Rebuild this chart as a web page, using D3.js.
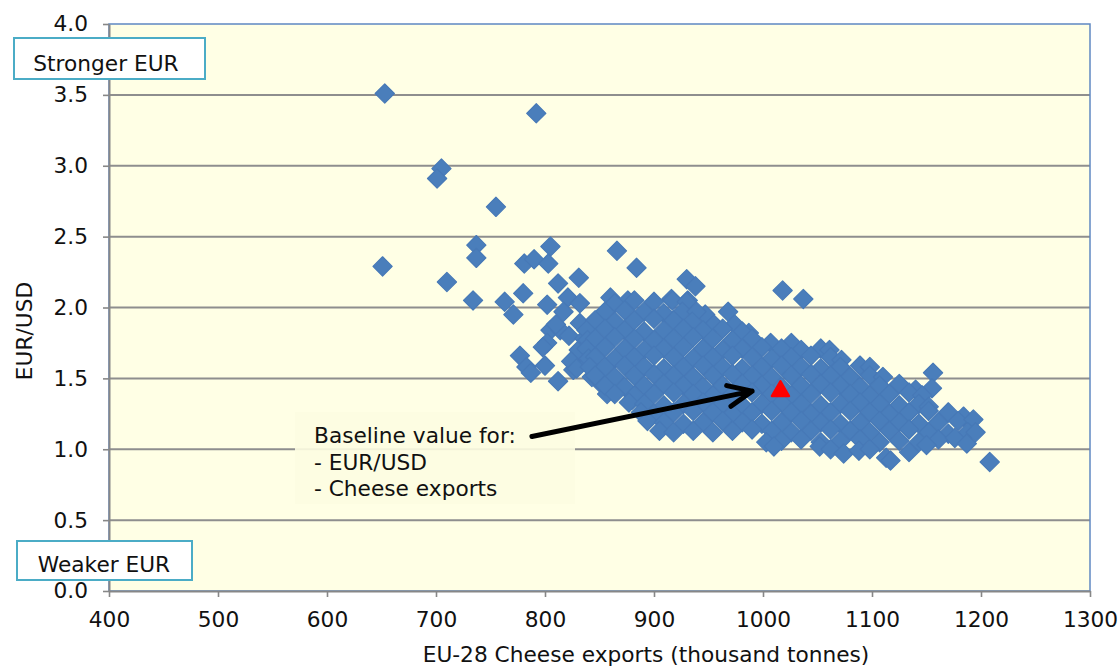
<!DOCTYPE html>
<html>
<head>
<meta charset="utf-8">
<script src="https://cdn.jsdelivr.net/npm/d3@7/dist/d3.min.js"></script>
<style>
  body { margin: 0; background: #ffffff; }
  svg { display: block; }
  text { font-family: "DejaVu Sans", Verdana, sans-serif; fill: #111; }
</style>
</head>
<body>
<svg id="chart" width="1120" height="671"></svg>
<script>
// Axis ticks
const xTicks = [400, 500, 600, 700, 800, 900, 1000, 1100, 1200, 1300];
const yTicks = [0, 0.5, 1, 1.5, 2, 2.5, 3, 3.5, 4];
const yGrid = [0.5, 1, 1.5, 2, 2.5, 3, 3.5];

// Axis titles and annotations
const xTitle = "EU-28 Cheese exports (thousand tonnes)";
const yTitle = "EUR/USD";
const strongLabel = "Stronger EUR";
const weakLabel = "Weaker EUR";
const noteLines = ["Baseline value for:", "- EUR/USD", "- Cheese exports"];

// Stochastic scenarios: [cheese exports (kt), EUR/USD]
const scenarioOutliers = [
  [653,3.51],[792,3.37],[705,2.98],[701,2.91],[755,2.71],[651,2.29],[737,2.44],[737,2.35],[710,2.18],[734,2.05],
  [805,2.43],[781,2.31],[790,2.34],[803,2.31],[866,2.40],[884,2.28],[812,2.17],[831,2.21],[780,2.10],[763,2.04],
  [771,1.95],[802,2.02],[821,2.07],[832,2.03],[817,1.97],[860,2.07],[876,2.05],[832,1.89],[850,1.92],[805,1.84],
  [814,1.84],[810,1.88],[802,1.75],[798,1.72],[777,1.66],[783,1.58],[787,1.54],[800,1.59],[812,1.48],[826,1.56],
  [831,1.70],[838,1.61],[824,1.62],[829,1.57],[822,1.80],[836,1.78],[843,1.51],[853,1.45],[857,1.39],[847,1.51],
  [880,1.35],[930,2.20],[938,2.15],[1018,2.12],[1037,2.06],[916,2.06],[931,2.05],[947,1.95],[968,1.97],
  [955,1.88],[974,1.88],[987,1.82],[1156,1.54],[1155,1.43],[1208,0.91]
];

const scenarioCore = [
  [864,2.03],[882,2.05],[900,2.04],[917,2.05],[930,2.04],
  [855,1.97],[873,1.98],[891,1.97],[909,1.96],[926,1.97],[939,1.97],
  [846,1.91],[864,1.90],[882,1.91],[900,1.92],[918,1.91],[935,1.90],
  [838,1.84],[855,1.85],[873,1.84],[891,1.83],[909,1.84],[927,1.85],[945,1.84],[963,1.85],[981,1.83],
  [839,1.77],[846,1.78],[864,1.79],[882,1.78],[900,1.77],[918,1.78],[936,1.79],[954,1.78],[972,1.77],[990,1.78],[1007,1.75],[1026,1.75],
  [838,1.71],[855,1.72],[873,1.71],[891,1.70],[909,1.71],[927,1.72],[945,1.71],[963,1.70],[981,1.71],[999,1.72],[1017,1.71],[1035,1.70],[1053,1.71],[1061,1.70],
  [840,1.64],[846,1.65],[864,1.64],[882,1.65],[900,1.66],[918,1.65],[936,1.64],[954,1.65],[972,1.66],[990,1.65],[1008,1.64],[1026,1.65],[1044,1.66],[1062,1.65],[1072,1.63],
  [841,1.58],[855,1.58],[873,1.59],[891,1.58],[909,1.57],[927,1.58],[945,1.59],[963,1.58],[981,1.57],[999,1.58],[1017,1.59],[1035,1.58],[1053,1.57],[1071,1.58],[1089,1.59],[1098,1.58],
  [846,1.52],[864,1.51],[882,1.52],[900,1.53],[918,1.52],[936,1.51],[954,1.52],[972,1.53],[990,1.52],[1008,1.51],[1026,1.52],[1044,1.53],[1062,1.52],[1080,1.51],[1098,1.52],[1110,1.51],
  [855,1.45],[873,1.44],[891,1.45],[909,1.46],[927,1.45],[945,1.44],[963,1.45],[981,1.46],[999,1.45],[1017,1.44],[1035,1.45],[1053,1.46],[1071,1.45],[1089,1.44],[1107,1.45],[1125,1.46],[1140,1.42],
  [864,1.39],[882,1.38],[900,1.39],[918,1.40],[936,1.39],[954,1.38],[972,1.39],[990,1.40],[1008,1.39],[1026,1.38],[1044,1.39],[1062,1.40],[1080,1.39],[1098,1.38],[1116,1.39],[1134,1.40],[1146,1.38],
  [877,1.33],[891,1.32],[909,1.31],[927,1.32],[945,1.33],[963,1.32],[981,1.31],[999,1.32],[1017,1.33],[1035,1.32],[1053,1.31],[1071,1.32],[1089,1.33],[1107,1.32],[1125,1.31],[1143,1.32],[1152,1.30],
  [888,1.26],[900,1.25],[918,1.26],[936,1.27],[954,1.26],[972,1.25],[990,1.26],[1008,1.27],[1026,1.26],[1044,1.25],[1062,1.26],[1080,1.27],[1098,1.26],[1116,1.25],[1134,1.26],[1152,1.27],[1170,1.26],[1184,1.23],
  [894,1.20],[909,1.19],[927,1.18],[945,1.19],[963,1.20],[981,1.19],[999,1.18],[1017,1.19],[1035,1.20],[1053,1.19],[1071,1.18],[1089,1.19],[1107,1.20],[1125,1.19],[1143,1.18],[1161,1.19],[1179,1.20],[1193,1.21],
  [905,1.13],[918,1.12],[936,1.13],[954,1.12],[972,1.13],[990,1.14],[1008,1.13],[1026,1.12],[1044,1.13],[1062,1.14],[1080,1.13],[1098,1.12],[1116,1.13],[1134,1.14],[1152,1.12],[1170,1.11],[1188,1.12],[1195,1.12],
  [1003,1.05],[1017,1.06],[1035,1.07],[1053,1.05],[1071,1.06],[1089,1.07],[1107,1.05],[1125,1.06],[1143,1.05],[1161,1.07],[1176,1.08],[1187,1.04],
  [1010,1.02],[1052,1.02],[1062,1.00],[1074,0.97],[1088,0.99],[1098,1.00],[1113,0.94],[1117,0.92],[1134,0.98],[1150,1.03]
];

// Baseline point and the arrow pointing at it
const baseline = [1016, 1.41];
const arrowFrom = [788, 1.09];
const arrowTo = [990, 1.41];

// Layout
const plot = { left: 109, right: 1090, top: 24, bottom: 591 };
const fontSize = 21.7;

const svg = d3.select("#chart");

const x = d3.scaleLinear().domain([400, 1300]).range([plot.left, plot.right]);
const y = d3.scaleLinear().domain([0, 4]).range([plot.bottom, plot.top]);

// Plot background
svg.append("rect")
  .attr("x", plot.left).attr("y", plot.top)
  .attr("width", plot.right - plot.left).attr("height", plot.bottom - plot.top)
  .attr("fill", "#ffffe5");

// Horizontal gridlines
svg.append("g").selectAll("line").data(yGrid).join("line")
  .attr("x1", plot.left).attr("x2", plot.right)
  .attr("y1", d => y(d)).attr("y2", d => y(d))
  .attr("stroke", "#8e8e8e").attr("stroke-width", 2);

// Plot frame (top and right edges show)
svg.append("rect")
  .attr("x", plot.left).attr("y", plot.top)
  .attr("width", plot.right - plot.left).attr("height", plot.bottom - plot.top)
  .attr("fill", "none").attr("stroke", "#5f88c2").attr("stroke-width", 1.5);

// Annotation panel
const noteBox = { x: 295, y: 412, w: 280, h: 92 };
svg.append("rect")
  .attr("x", noteBox.x).attr("y", noteBox.y)
  .attr("width", noteBox.w).attr("height", noteBox.h)
  .attr("fill", "#fdfde1").attr("opacity", 0.9);
svg.append("g").selectAll("text").data(noteLines).join("text")
  .attr("x", noteBox.x + 19)
  .attr("y", (d, i) => noteBox.y + 31 + i * 26.5)
  .attr("font-size", fontSize)
  .text(d => d);

// Axes
const axisColor = "#878787";
const yAxis = svg.append("g")
  .attr("transform", `translate(${plot.left},0)`)
  .call(d3.axisLeft(y).tickValues(yTicks).tickFormat(d3.format(".1f"))
    .tickSize(6).tickSizeOuter(0).tickPadding(15));
const xAxis = svg.append("g")
  .attr("transform", `translate(0,${plot.bottom})`)
  .call(d3.axisBottom(x).tickValues(xTicks).tickFormat(d3.format("d"))
    .tickSize(6).tickSizeOuter(0).tickPadding(15));
[yAxis, xAxis].forEach(g => {
  g.select(".domain").attr("stroke", axisColor).attr("stroke-width", 2);
  g.selectAll(".tick line").attr("stroke", axisColor).attr("stroke-width", 1.6);
  g.selectAll(".tick text").attr("font-size", fontSize)
    .attr("font-family", '"DejaVu Sans", Verdana, sans-serif').attr("fill", "#111");
});

// Scenario diamonds
const r = 9.6;
const diamond = `M0,${-r}L${r},0L0,${r}L${-r},0Z`;
svg.append("g").selectAll("path")
  .data(scenarioOutliers.concat(scenarioCore)).join("path")
  .attr("d", diamond)
  .attr("transform", d => `translate(${x(d[0])},${y(d[1])})`)
  .attr("fill", "#4a7ebb")
  .attr("stroke", "#4779b7").attr("stroke-width", 1.2)
  .attr("stroke-linejoin", "round");

// Arrow
const [ax0, ay0] = [x(arrowFrom[0]), y(arrowFrom[1])];
const [ax1, ay1] = [x(arrowTo[0]), y(arrowTo[1])];
const ang = Math.atan2(ay0 - ay1, ax0 - ax1);
const armLen = 26, spread = 24 * Math.PI / 180;
const arm = s => [ax1 + armLen * Math.cos(ang + s), ay1 + armLen * Math.sin(ang + s)];
const [p1, p2] = [arm(spread), arm(-spread)];
svg.append("path")
  .attr("d", `M${ax0},${ay0}L${ax1},${ay1}M${p1[0]},${p1[1]}L${ax1},${ay1}L${p2[0]},${p2[1]}`)
  .attr("fill", "none").attr("stroke", "#000").attr("stroke-width", 5)
  .attr("stroke-linejoin", "round").attr("stroke-linecap", "round");

// Baseline marker
svg.append("path")
  .attr("d", d3.symbol(d3.symbolTriangle, 125)())
  .attr("transform", `translate(${x(baseline[0])},${y(baseline[1])})`)
  .attr("fill", "#ff0000").attr("stroke", "#ff0000")
  .attr("stroke-width", 2.5).attr("stroke-linejoin", "round");

// Direction labels
function labelBox(b, label) {
  svg.append("rect")
    .attr("x", b.x).attr("y", b.y).attr("width", b.w).attr("height", b.h)
    .attr("fill", "#ffffff").attr("stroke", "#4bacc6").attr("stroke-width", 2);
  svg.append("text")
    .attr("x", b.tx).attr("y", b.ty)
    .attr("text-anchor", "middle").attr("font-size", fontSize)
    .text(label);
}
labelBox({ x: 14, y: 38, w: 191, h: 41, tx: 106, ty: 71 }, strongLabel);
labelBox({ x: 17, y: 541, w: 175, h: 39, tx: 104, ty: 572 }, weakLabel);

// Axis titles
svg.append("text")
  .attr("x", 646).attr("y", 662)
  .attr("text-anchor", "middle").attr("font-size", fontSize)
  .text(xTitle);
svg.append("text")
  .attr("transform", "translate(32,331) rotate(-90)")
  .attr("text-anchor", "middle").attr("font-size", fontSize)
  .text(yTitle);
</script>
</body>
</html>
